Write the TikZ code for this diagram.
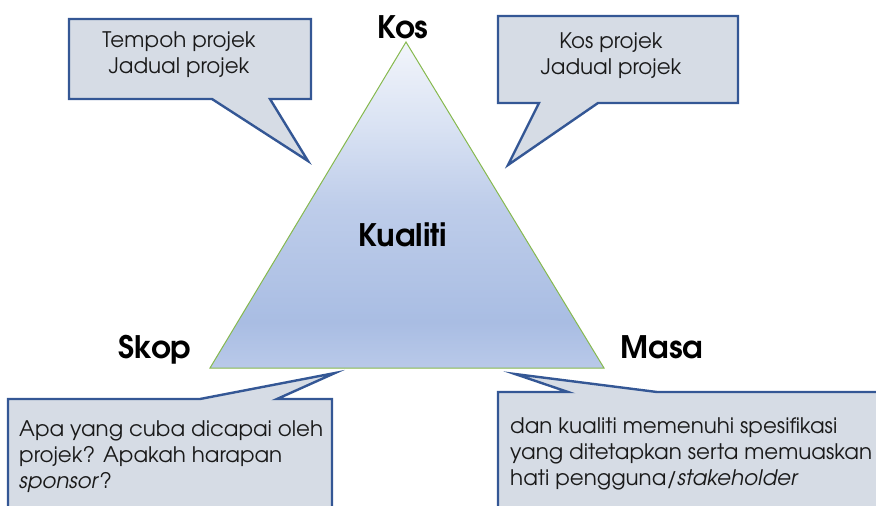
\documentclass[tikz,border=0pt]{standalone}
\usepackage{fontspec}
\setmainfont{TeX Gyre Adventor}
\definecolor{calfill}{HTML}{D6DCE5}
\definecolor{caledge}{HTML}{345795}
\definecolor{triedge}{HTML}{86B94E}
\definecolor{txt}{HTML}{1A1A1A}
\definecolor{tA}{HTML}{F2F5FB}
\definecolor{tB}{HTML}{D9E2F3}
\definecolor{tC}{HTML}{BECDEA}
\definecolor{tD}{HTML}{A9BDE3}
\definecolor{tE}{HTML}{B9C9E9}
\pgfdeclareverticalshading{trishade}{100bp}{color(0bp)=(tE); color(25bp)=(tE); color(32bp)=(tD); color(50bp)=(tC); color(62bp)=(tB); color(75bp)=(tA); color(100bp)=(tA)}
\tikzset{
  callout/.style={fill=calfill, draw=caledge, line width=2.4pt, line join=miter},
  caltext/.style={font=\fontsize{21.4}{26}\selectfont, text=txt, inner sep=0pt},
  vlabel/.style={font=\fontsize{31}{36}\selectfont\bfseries, text=black, inner sep=0pt},
}
\begin{document}
\begin{tikzpicture}[x=1pt,y=-1pt]
\useasboundingbox (0,0) rectangle (876,506);
\clip (0,0) rectangle (876,506);
% triangle
\coordinate (apex) at (406,42);
\coordinate (bl) at (210,368);
\coordinate (br) at (604,368);
\path[shading=trishade] (apex) -- (br) -- (bl) -- cycle;
\draw[triedge, line width=1pt, line join=miter] (apex) -- (br) -- (bl) -- cycle;
% callouts
\draw[callout] (69,19) -- (311,19) -- (311,99) -- (270,99) -- (308,161) -- (212,99) -- (69,99) -- cycle;
\draw[callout] (498,16) -- (738,16) -- (738,103) -- (598,103) -- (508,165) -- (539,103) -- (498,103) -- cycle;
\draw[callout] (8,399) -- (200,399) -- (335,373) -- (277,399) -- (332,399) -- (332,530) -- (8,530) -- cycle;
\draw[callout] (498,392) -- (568,392) -- (515,374) -- (657,392) -- (900,392) -- (900,530) -- (498,530) -- cycle;
% texts (base anchor = last line baseline)
\node[caltext, align=center, anchor=base] (t1) at (179,73) {Tempoh projek\\Jadual projek};
\node[caltext, align=center, anchor=base] (t2) at (611,74) {Kos projek\\Jadual projek};
\node[caltext, align=left, anchor=base west] (t3) at (19,488) {Apa yang cuba dicapai oleh\\projek? Apakah harapan\\\textit{sponsor}?};
\node[caltext, align=left, anchor=base west] (t4) at (510,485) {dan kualiti memenuhi spesifikasi\\yang ditetapkan serta memuaskan\\hati pengguna/\textit{stakeholder}};
% vertex labels
\node[vlabel, anchor=base] (kos) at (403,38) {Kos};
\node[vlabel, anchor=base] (skop) at (155,358) {Skop};
\node[vlabel, anchor=base] (masa) at (662,358) {Masa};
\node[vlabel, anchor=base] (kual) at (403,246) {Kualiti};
\end{tikzpicture}
\end{document}
